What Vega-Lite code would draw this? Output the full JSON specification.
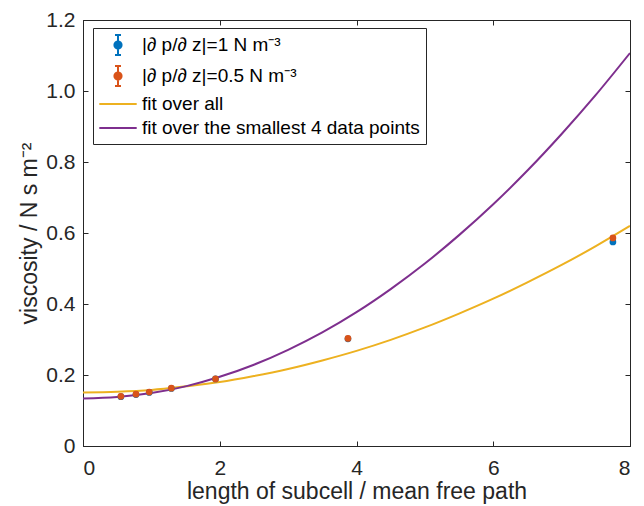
{
  "$schema": "https://vega.github.io/schema/vega-lite/v6.json",
  "autosize": "none",
  "width": 547,
  "height": 426,
  "padding": {"left": 83, "top": 20, "right": 14, "bottom": 60},
  "background": "white",
  "config": {
    "font": "Liberation Sans",
    "view": {"stroke": "#262626", "strokeWidth": 1},
    "axis": {
      "domainColor": "#262626",
      "tickColor": "#262626",
      "labelColor": "#262626",
      "titleColor": "#262626",
      "labelFont": "Liberation Sans",
      "titleFont": "Liberation Sans",
      "labelFontSize": 21,
      "titleFontSize": 23,
      "titleFontWeight": "normal",
      "grid": false
    }
  },
  "datasets": {
    "points": [
      {"series": "|∂ p/∂ z|=1 N m⁻³", "x": 0.554, "y": 0.139},
      {"series": "|∂ p/∂ z|=1 N m⁻³", "x": 0.775, "y": 0.145},
      {"series": "|∂ p/∂ z|=1 N m⁻³", "x": 0.969, "y": 0.151},
      {"series": "|∂ p/∂ z|=1 N m⁻³", "x": 1.292, "y": 0.162},
      {"series": "|∂ p/∂ z|=1 N m⁻³", "x": 1.938, "y": 0.189},
      {"series": "|∂ p/∂ z|=1 N m⁻³", "x": 3.875, "y": 0.302},
      {"series": "|∂ p/∂ z|=1 N m⁻³", "x": 7.75, "y": 0.575},
      {"series": "|∂ p/∂ z|=0.5 N m⁻³", "x": 0.554, "y": 0.140},
      {"series": "|∂ p/∂ z|=0.5 N m⁻³", "x": 0.775, "y": 0.146},
      {"series": "|∂ p/∂ z|=0.5 N m⁻³", "x": 0.969, "y": 0.152},
      {"series": "|∂ p/∂ z|=0.5 N m⁻³", "x": 1.292, "y": 0.163},
      {"series": "|∂ p/∂ z|=0.5 N m⁻³", "x": 1.938, "y": 0.189},
      {"series": "|∂ p/∂ z|=0.5 N m⁻³", "x": 3.875, "y": 0.303},
      {"series": "|∂ p/∂ z|=0.5 N m⁻³", "x": 7.75, "y": 0.586}
    ],
    "fits": [
      {"series": "fit over all", "x": 0, "y": 0.151},
      {"series": "fit over all", "x": 0.5, "y": 0.153},
      {"series": "fit over all", "x": 1, "y": 0.158},
      {"series": "fit over all", "x": 1.5, "y": 0.168},
      {"series": "fit over all", "x": 2, "y": 0.180},
      {"series": "fit over all", "x": 2.5, "y": 0.197},
      {"series": "fit over all", "x": 3, "y": 0.217},
      {"series": "fit over all", "x": 3.5, "y": 0.241},
      {"series": "fit over all", "x": 4, "y": 0.268},
      {"series": "fit over all", "x": 4.5, "y": 0.299},
      {"series": "fit over all", "x": 5, "y": 0.334},
      {"series": "fit over all", "x": 5.5, "y": 0.373},
      {"series": "fit over all", "x": 6, "y": 0.415},
      {"series": "fit over all", "x": 6.5, "y": 0.461},
      {"series": "fit over all", "x": 7, "y": 0.510},
      {"series": "fit over all", "x": 7.5, "y": 0.563},
      {"series": "fit over all", "x": 8, "y": 0.620},
      {"series": "fit over the smallest 4 data points", "x": 0, "y": 0.134},
      {"series": "fit over the smallest 4 data points", "x": 0.5, "y": 0.138},
      {"series": "fit over the smallest 4 data points", "x": 1, "y": 0.149},
      {"series": "fit over the smallest 4 data points", "x": 1.5, "y": 0.168},
      {"series": "fit over the smallest 4 data points", "x": 2, "y": 0.195},
      {"series": "fit over the smallest 4 data points", "x": 2.5, "y": 0.229},
      {"series": "fit over the smallest 4 data points", "x": 3, "y": 0.271},
      {"series": "fit over the smallest 4 data points", "x": 3.5, "y": 0.320},
      {"series": "fit over the smallest 4 data points", "x": 4, "y": 0.377},
      {"series": "fit over the smallest 4 data points", "x": 4.5, "y": 0.442},
      {"series": "fit over the smallest 4 data points", "x": 5, "y": 0.514},
      {"series": "fit over the smallest 4 data points", "x": 5.5, "y": 0.594},
      {"series": "fit over the smallest 4 data points", "x": 6, "y": 0.681},
      {"series": "fit over the smallest 4 data points", "x": 6.5, "y": 0.776},
      {"series": "fit over the smallest 4 data points", "x": 7, "y": 0.879},
      {"series": "fit over the smallest 4 data points", "x": 7.5, "y": 0.989},
      {"series": "fit over the smallest 4 data points", "x": 8, "y": 1.107}
    ]
  },
  "resolve": {"axis": {"x": "independent", "y": "independent"}},
  "layer": [
    {
      "data": {"name": "fits"},
      "mark": {"type": "line", "strokeWidth": 2, "interpolate": "monotone", "clip": true},
      "encoding": {
        "x": {
          "field": "x", "type": "quantitative",
          "scale": {"domain": [0, 8], "nice": false, "zero": false},
          "axis": {"values": [0, 2, 4, 6, 8], "title": "length of subcell / mean free path", "tickSize": -5, "labelPadding": 16, "titlePadding": 2}
        },
        "y": {
          "field": "y", "type": "quantitative",
          "scale": {"domain": [0, 1.2], "nice": false},
          "axis": {"values": [0, 0.2, 0.4, 0.6, 0.8, 1.0, 1.2], "labelExpr": "datum.value == 0 ? '0' : format(datum.value, '.1f')", "title": "viscosity / N s m⁻²", "tickSize": -5, "labelPadding": 13, "titlePadding": 4}
        },
        "color": {
          "field": "series", "type": "nominal",
          "scale": {
            "domain": ["|∂ p/∂ z|=1 N m⁻³", "|∂ p/∂ z|=0.5 N m⁻³", "fit over all", "fit over the smallest 4 data points"],
            "range": ["#0072BD", "#D95319", "#EDB120", "#7E2F8E"]
          },
          "legend": {
            "title": null,
            "orient": "none",
            "legendX": 10,
            "legendY": 8,
            "labelFont": "Liberation Sans",
            "labelFontSize": 19,
            "labelLimit": 500,
            "labelColor": "#000000",
            "symbolSize": 400,
            "symbolStrokeWidth": 2,
            "rowPadding": 3,
            "labelOffset": 21,
            "padding": 6,
            "strokeColor": "#262626",
            "fillColor": "white",
            "encode": {
              "symbols": {
                "update": {
                  "x": {"value": 19},
                  "shape": {"signal": "indexof(['fit over all', 'fit over the smallest 4 data points'], datum.value) >= 0 ? 'M-1.87,0H1.87' : 'M-0.3,-1H0.3M0,-1V1M-0.3,1H0.3M0.36,0A0.36,0.36,0,1,1,-0.36,0A0.36,0.36,0,1,1,0.36,0Z'"},
                  "fill": {"signal": "indexof(['fit over all', 'fit over the smallest 4 data points'], datum.value) >= 0 ? 'transparent' : scale('color', datum.value)"},
                  "stroke": {"signal": "scale('color', datum.value)"}
                }
              }
            }
          }
        }
      }
    },
    {
      "data": {"name": "points"},
      "mark": {"type": "point", "filled": true, "size": 45, "opacity": 1},
      "encoding": {
        "x": {"field": "x", "type": "quantitative", "axis": {"orient": "top", "values": [0, 2, 4, 6, 8], "labels": false, "title": null, "tickSize": -5, "domain": false}},
        "y": {"field": "y", "type": "quantitative", "axis": {"orient": "right", "values": [0, 0.2, 0.4, 0.6, 0.8, 1.0, 1.2], "labels": false, "title": null, "tickSize": -5, "domain": false}},
        "color": {"field": "series", "type": "nominal", "legend": null}
      }
    }
  ]
}
